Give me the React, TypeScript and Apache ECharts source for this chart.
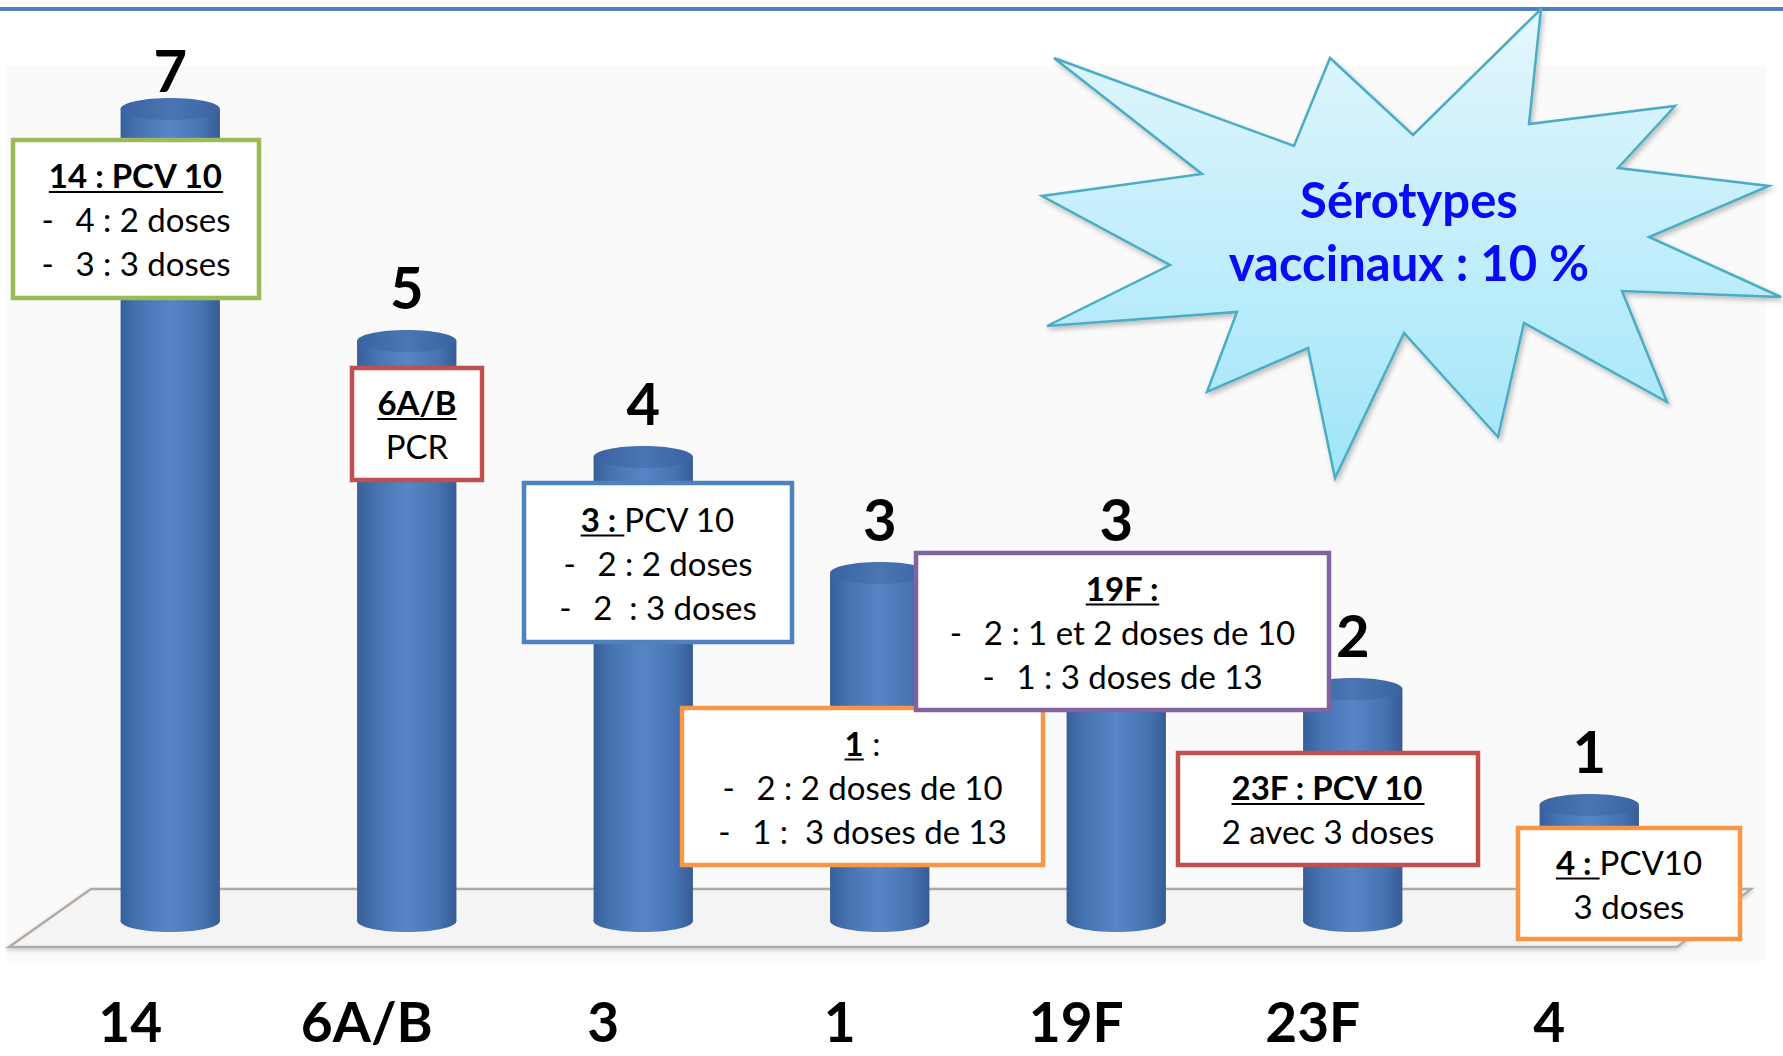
import React, { useEffect, useRef } from 'react';
import * as echarts from 'echarts';

// ---- data ----
const categories = ['14', '6A/B', '3', '1', '19F', '23F', '4'];
const counts = [7, 5, 4, 3, 3, 2, 1];

type Seg = { t: string; b?: boolean; u?: boolean };
const calloutTitles: Seg[][] = [
  [{ t: '14 : PCV 10', b: true, u: true }],
  [{ t: '6A/B', b: true, u: true }],
  [{ t: '3 : ', b: true, u: true }, { t: 'PCV 10' }],
  [{ t: '1', b: true, u: true }, { t: ' :' }],
  [{ t: '19F :', b: true, u: true }],
  [{ t: '23F : PCV 10', b: true, u: true }],
  [{ t: '4 : ', b: true, u: true }, { t: 'PCV10' }],
];
const calloutLines: string[][] = [
  ['- 4 : 2 doses', '- 3 : 3 doses'],
  ['PCR'],
  ['- 2 : 2 doses', '- 2  : 3 doses'],
  ['- 2 : 2 doses de 10', '- 1 :  3 doses de 13'],
  ['- 2 : 1 et 2 doses de 10', '- 1 : 3 doses de 13'],
  ['2 avec 3 doses'],
  ['3 doses'],
];
const calloutColors = ['#9bbb59', '#c0504d', '#4f81bd', '#f79646', '#8064a2', '#c0504d', '#f79646'];
const starText = ['Sérotypes', 'vaccinaux : 10 %'];

// ---- layout ----
const calloutBoxes = [
  [13, 140, 246, 158],
  [352, 368, 130, 112],
  [524, 483, 268, 159],
  [682, 708, 361, 157],
  [916, 553, 413, 157],
  [1178, 753, 300, 112],
  [1518, 828, 222, 111],
];
const starPoints = [
  [1054, 58], [1294, 146], [1330, 58], [1413, 135], [1541, 9], [1529, 124],
  [1675, 106], [1618, 168], [1769, 186], [1649, 237], [1781, 297], [1622, 291],
  [1667, 402], [1524, 323], [1498, 437], [1404, 333], [1335, 478], [1308, 348],
  [1207, 392], [1237, 312], [1047, 326], [1170, 265], [1042, 196], [1202, 174],
];

const FONT = 'Lato';
const BOX_FS = 33;

let ctx: CanvasRenderingContext2D | null = null;
function measure(text: string, bold: boolean, size: number) {
  if (!ctx) ctx = document.createElement('canvas').getContext('2d');
  ctx!.font = `${bold ? 'bold ' : ''}${size}px ${FONT}`;
  return ctx!.measureText(text).width;
}

function buildCallouts() {
  const els: any[] = [];
  calloutBoxes.forEach((b, i) => {
    const [x, y, w, h] = b;
    const color = calloutColors[i];
    els.push({
      type: 'rect',
      z: 50,
      shape: { x, y, width: w, height: h },
      style: { fill: '#ffffff', stroke: color, lineWidth: 4.5 },
    });
    const cx = x + w / 2;
    const cy = y + h / 2;
    const n = calloutLines[i].length + 1;
    const lineY = (k: number) => cy + (k - (n - 1) / 2) * 44;
    const segs = calloutTitles[i];
    const widths = segs.map((s) => measure(s.t, !!s.b, BOX_FS));
    const total = widths.reduce((a, c) => a + c, 0);
    let sx = cx - total / 2;
    const ty = lineY(0);
    segs.forEach((s, j) => {
      els.push({
        type: 'text',
        z: 51,
        x: sx,
        y: ty,
        style: {
          text: s.t,
          fill: '#000',
          font: `${s.b ? 'bold ' : ''}${BOX_FS}px ${FONT}`,
          textAlign: 'left',
          textVerticalAlign: 'middle',
        },
      });
      if (s.u) {
        els.push({
          type: 'line',
          z: 51,
          shape: { x1: sx, y1: ty + 17, x2: sx + widths[j], y2: ty + 17 },
          style: { stroke: '#000', lineWidth: 2 },
        });
      }
      sx += widths[j];
    });
    calloutLines[i].forEach((ln, k) => {
      const ly = lineY(k + 1);
      if (ln.startsWith('- ')) {
        const body = ln.slice(2);
        const bw = measure(body, false, BOX_FS);
        const gap = 34;
        const start = cx - (gap + bw) / 2;
        els.push({
          type: 'text', z: 51, x: start, y: ly,
          style: { text: '-', fill: '#000', font: `${BOX_FS}px ${FONT}`, textAlign: 'left', textVerticalAlign: 'middle' },
        });
        els.push({
          type: 'text', z: 51, x: start + gap, y: ly,
          style: { text: body, fill: '#000', font: `${BOX_FS}px ${FONT}`, textAlign: 'left', textVerticalAlign: 'middle' },
        });
      } else {
        els.push({
          type: 'text', z: 51, x: cx, y: ly,
          style: { text: ln, fill: '#000', font: `${BOX_FS}px ${FONT}`, textAlign: 'center', textVerticalAlign: 'middle' },
        });
      }
    });
  });
  return els;
}

export default function App() {
  const ref = useRef<HTMLDivElement>(null);
  useEffect(() => {
    if (!ref.current) return;
    const chart = echarts.init(ref.current, null, { renderer: 'svg' });

    const bodyGrad = {
      type: 'linear', x: 0, y: 0, x2: 1, y2: 0,
      colorStops: [
        { offset: 0, color: '#385f98' },
        { offset: 0.18, color: '#4673b2' },
        { offset: 0.5, color: '#5885c5' },
        { offset: 0.82, color: '#4673b2' },
        { offset: 1, color: '#365c94' },
      ],
    };
    const capGrad = {
      type: 'linear', x: 0, y: 0, x2: 1, y2: 0,
      colorStops: [
        { offset: 0, color: '#3a63a0' },
        { offset: 0.5, color: '#4a76b4' },
        { offset: 1, color: '#3a63a0' },
      ],
    };

    const option: any = {
      animation: false,
      backgroundColor: '#ffffff',
      grid: [
        { left: 52, top: 109, width: 1655.5, height: 812 },
        { left: 12, top: 109, width: 1655.5, height: 812 },
      ],
      xAxis: [
        {
          type: 'category', gridIndex: 0, data: categories,
          axisLine: { show: false }, axisTick: { show: false }, axisLabel: { show: false },
        },
        {
          type: 'category', gridIndex: 1, data: categories,
          axisLine: { show: false }, axisTick: { show: false },
          axisLabel: {
            interval: 0, margin: 75, color: '#000', fontFamily: FONT,
            fontWeight: 'bold', fontSize: 55, lineHeight: 50,
          },
        },
      ],
      yAxis: [
        { type: 'value', gridIndex: 0, min: 0, max: 7, show: false },
        { type: 'value', gridIndex: 1, min: 0, max: 7, show: false },
      ],
      graphic: [
        {
          type: 'rect', z: 0, silent: true,
          shape: { x: 6, y: 66, width: 1760, height: 895 },
          style: { fill: '#fafafa' },
        },
        {
          type: 'line', z: 1,
          shape: { x1: 0, y1: 9, x2: 1783, y2: 9 },
          style: { stroke: '#4f81bd', lineWidth: 4 },
        },
        {
          type: 'polygon', z: 1,
          shape: { points: [[91, 889], [1751, 889], [1677, 947], [9, 947]] },
          style: {
            fill: '#f4f4f4', stroke: '#b5aaa2', lineWidth: 2.5,
            shadowColor: 'rgba(0,0,0,0.2)', shadowBlur: 4, shadowOffsetY: 2,
          },
        },
        {
          type: 'polygon', z: 40,
          shape: { points: starPoints },
          style: {
            fill: {
              type: 'linear', x: 0, y: 0, x2: 0, y2: 1,
              colorStops: [
                { offset: 0, color: '#e4f7fd' },
                { offset: 1, color: '#a0e5f9' },
              ],
            },
            stroke: '#4bacc6', lineWidth: 2.5,
            shadowColor: 'rgba(0,0,0,0.25)', shadowBlur: 5, shadowOffsetX: 2, shadowOffsetY: 3,
          },
        },
        ...starText.map((t, i) => ({
          type: 'text', z: 41, x: 1409, y: 199 + i * 63,
          style: {
            text: t, fill: '#0a0af5', font: `bold 49px ${FONT}`,
            textAlign: 'center', textVerticalAlign: 'middle',
          },
        })),
        ...buildCallouts(),
      ],
      series: [
        {
          type: 'custom',
          xAxisIndex: 0,
          yAxisIndex: 0,
          z: 5,
          data: counts.map((v, i) => [i, v]),
          encode: { x: 0, y: 1 },
          renderItem: (params: any, api: any) => {
            const idx = api.value(0);
            const v = api.value(1);
            const top = api.coord([idx, v]);
            const base = api.coord([idx, 0]);
            const bw = api.size([1, 0])[0] * 0.42;
            const cx = top[0];
            const rx = bw / 2;
            const ry = 11;
            const baseY = base[1];
            return {
              type: 'group',
              children: [
                { type: 'ellipse', shape: { cx, cy: baseY, rx, ry }, style: { fill: bodyGrad } },
                {
                  type: 'rect',
                  shape: { x: cx - rx, y: top[1], width: bw, height: baseY - top[1] },
                  style: { fill: bodyGrad },
                },
                { type: 'ellipse', shape: { cx, cy: top[1], rx, ry }, style: { fill: capGrad } },
                {
                  type: 'text',
                  x: cx,
                  y: Math.max(top[1] - 55, 69),
                  style: {
                    text: String(v), fill: '#000', font: `bold 58px ${FONT}`,
                    textAlign: 'center', textVerticalAlign: 'middle',
                  },
                },
              ],
            };
          },
        },
      ],
    };
    chart.setOption(option);
    return () => chart.dispose();
  }, []);
  return (
    <div
      ref={ref}
      style={{ position: 'fixed', left: 0, top: 0, width: 1783, height: 1056, background: '#fff' }}
    />
  );
}
